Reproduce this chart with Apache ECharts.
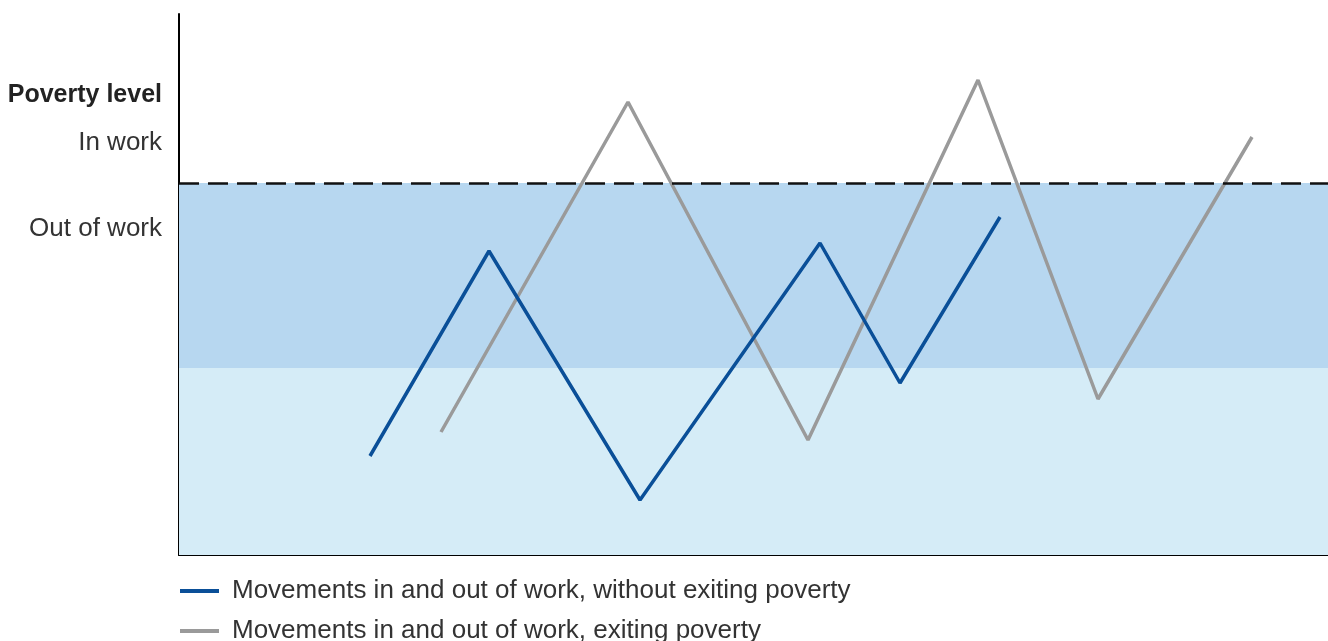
<!DOCTYPE html>
<html><head><meta charset="utf-8">
<script src="https://cdn.jsdelivr.net/npm/echarts@6/dist/echarts.min.js"></script>
<style>html,body{margin:0;padding:0;background:#fff}#c{width:1328px;height:641px}</style>
</head><body><div id="c"></div>
<script>
const seriesNames = ['Movements in and out of work, without exiting poverty','Movements in and out of work, exiting poverty'];
const blueX = [191, 310, 461, 641, 721, 821];
const blueY = [99, 304, 55, 312, 172, 338];
const grayX = [262, 449, 629, 799, 919, 1073];
const grayY = [123, 453, 115, 475, 156, 418];
const povertyLine = 372;
const outOfWorkBand = [187, 372];
const lowerBand = [0, 187];
const axisLabels = ['Poverty level', 'In work', 'Out of work'];

const chart = echarts.init(document.getElementById('c'));
const font = 'Helvetica, "Liberation Sans", Arial, sans-serif';
const legendBase = {orient: 'vertical', left: 180, padding: 0, icon: 'rect', itemWidth: 39, itemHeight: 4,
  textStyle: {fontSize: 26, color: '#333', fontFamily: font, lineHeight: 28, padding: [0, 0, 0, 8]}};
chart.setOption({
  animation: false,
  grid: {left: 179, right: 0, top: 14, bottom: 86},
  xAxis: {type: 'value', min: 0, max: 1149, axisLine: {show: true, onZero: false, lineStyle: {color: '#000', width: 2}},
    axisTick: {show: false}, axisLabel: {show: false}, splitLine: {show: false}},
  yAxis: {type: 'value', min: 0, max: 541, axisLine: {show: true, lineStyle: {color: '#000', width: 2}},
    axisTick: {show: false}, axisLabel: {show: false}, splitLine: {show: false}},
  legend: [
    Object.assign({}, legendBase, {top: 577, data: [seriesNames[0]]}),
    Object.assign({}, legendBase, {top: 617, data: [seriesNames[1]]})
  ],
  graphic: [
    {type: 'text', x: 162, y: 95, style: {text: axisLabels[0], font: 'bold 25px ' + font, fill: '#222', align: 'right', verticalAlign: 'middle'}},
    {type: 'text', x: 162, y: 143, style: {text: axisLabels[1], font: '26px ' + font, fill: '#333', align: 'right', verticalAlign: 'middle'}},
    {type: 'text', x: 162, y: 229, style: {text: axisLabels[2], font: '26px ' + font, fill: '#333', align: 'right', verticalAlign: 'middle'}}
  ],
  series: [
    {name: 'bands', type: 'line', data: [], silent: true,
      markArea: {silent: true, data: [
        [{yAxis: lowerBand[0], itemStyle: {color: '#d5ecf7'}}, {yAxis: lowerBand[1]}],
        [{yAxis: outOfWorkBand[0], itemStyle: {color: '#b7d7f0'}}, {yAxis: outOfWorkBand[1]}]
      ]},
      markLine: {silent: true, symbol: 'none', label: {show: false},
        lineStyle: {color: '#111', width: 2.5, type: [20, 9]}, data: [{yAxis: povertyLine}]}
    },
    {name: seriesNames[0], type: 'line', showSymbol: false, z: 5,
      data: blueX.map((x, i) => [x, blueY[i]]), lineStyle: {color: '#0a4f98', width: 3.5}, itemStyle: {color: '#0a4f98'}},
    {name: seriesNames[1], type: 'line', showSymbol: false, z: 4,
      data: grayX.map((x, i) => [x, grayY[i]]), lineStyle: {color: '#9a9a9a', width: 3.5}, itemStyle: {color: '#9a9a9a'}}
  ]
});
</script></body></html>
